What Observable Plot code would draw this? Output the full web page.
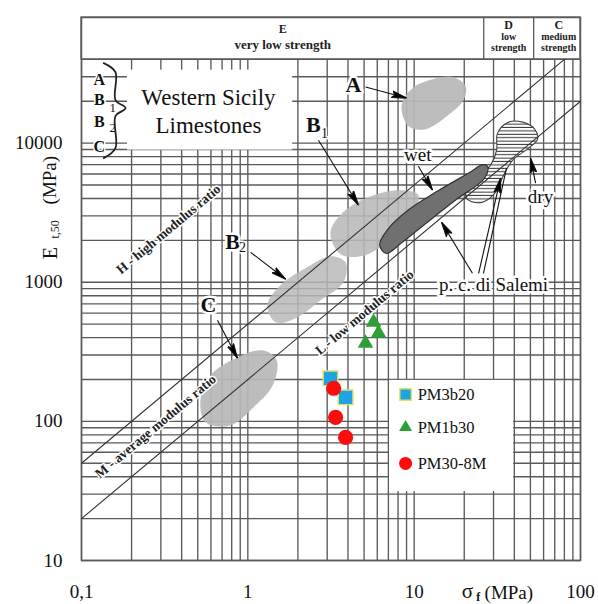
<!DOCTYPE html>
<html><head><meta charset="utf-8">
<script src="https://cdn.jsdelivr.net/npm/d3@7"></script>
<script src="https://cdn.jsdelivr.net/npm/@observablehq/plot@0.6"></script>
<style>body{margin:0;background:#fff}#chart{width:598px;height:604px}#chart text{font-family:"Liberation Serif","DejaVu Serif",serif}</style>
</head><body><div id="chart"></div>
<script>
// ---- data (sigma_f in MPa, E_t50 in MPa) ----
const xTicks = [0.1, 1, 10, 100];
const xTickLabels = ["0,1", "1", "10", "100"];
const yTicks = [10, 100, 1000, 10000];
const yTickLabels = ["10", "100", "1000", "10000"];

// modulus-ratio lines
const lineHSigma = [0.1, 80], lineHE = [50, 40000];
const lineLSigma = [0.1, 100], lineLE = [20, 20000];

// field outlines
const aSigma = [8.4, 9.8, 12.9, 17, 20.4, 19.8, 15.7, 11.7, 9.25];
const aE = [18800, 24900, 28800, 29900, 25700, 20400, 15600, 12600, 13200];
const b1Sigma = [3.14, 3.87, 5.47, 8.28, 10.6, 9.78, 7.21, 5.10, 3.61];
const b1E = [2290, 3300, 4160, 4590, 4230, 3030, 2070, 1565, 1590];
const b2Sigma = [1.31, 1.57, 2.22, 3.14, 3.87, 3.76, 2.74, 1.94, 1.47];
const b2E = [683, 951, 1260, 1540, 1390, 1000, 742, 551, 515];
const cSigma = [0.519, 0.597, 0.844, 1.23, 1.49, 1.41, 1.11, 0.787, 0.557];
const cE = [142, 214, 284, 324, 275, 181, 130, 93.6, 98.4];
const wetSigma = [6.2, 6.9, 9.3, 14.0, 21.3, 25.9, 27.8, 26.2, 18.0, 11.9, 8.4, 6.8];
const wetE = [1850, 2380, 3330, 4560, 6100, 7000, 6700, 5500, 3950, 2680, 1920, 1610];
const drySigma = [31.7, 37.0, 44.9, 53.0, 55.2, 48.7, 39.1, 34.5, 30.9, 25.8, 21.2, 20.4, 23.4, 28.8, 31.3];
const dryE = [11800, 14160, 14160, 12620, 10690, 9200, 7550, 5890, 4440, 3760, 3890, 4440, 5420, 6950, 8910];

// test points
const pm3b20Sigma = [3.14, 3.87], pm3b20E = [204, 149];
const pm1b30Sigma = [5.70, 6.11, 5.10], pm1b30E = [515, 430, 364];
const pm30Sigma = [3.28, 3.37, 3.87], pm30E = [173, 107, 76.7];

// arrows [sigma1, E1] -> [sigma2, E2]
const arrowS1 = [5.10, 2.66, 1.04, 0.657, 10.6, 53.7, 22.4, 24.4];
const arrowE1 = [25300, 10500, 1640, 533, 6830, 5150, 1160, 1160];
const arrowS2 = [9.00, 4.63, 1.69, 0.867, 12.9, 50.1, 14.6, 33.1];
const arrowE2 = [21080, 3580, 1050, 284, 4590, 7800, 2700, 5600];
const plainLinkS = [26.1], plainLinkE = [1160], plainLinkS2 = [35.9], plainLinkE2 = [6610];

// labels
const bigLabels = ["A", "B", "B", "C"];
const bigLabelSigma = [4.32, 2.48, 0.809, 0.580];
const bigLabelE = [26100, 13470, 1940, 683];
const subLabels = ["1", "2"];
const subLabelSigma = [2.89, 0.929];
const subLabelE = [11800, 1790];
const noteLabels = ["wet", "dry", "p. c. di Salemi"];
const noteSigma = [10.5, 57.5, 30.0];
const noteE = [8200, 4090, 951];
const ratioLabels = ["H - high modulus ratio", "M - average modulus ratio", "L - low modulus ratio"];
const ratioSigma = [0.333, 0.279, 5.03];
const ratioE = [2400, 92, 608];

// key at top-left
const keyLetters = ["A", "B", "B", "C"];
const keySigma = 0.128;
const keyE = [28400, 20400, 14160, 9350];
const keySubs = ["1", "2"];
const keySubE = [17860, 12820];
const braceSigma = [0.136, 0.16, 0.16, 0.184, 0.16, 0.16, 0.136];
const braceE = [37600, 32400, 20400, 17860, 15650, 9200, 7800];
const titleLines = ["Western Sicily", "Limestones"];
const titleE = [21400, 13470];

// strength classes header
const classBounds = [26.2, 52.3];
const headerBig = ["E", "D", "C"];
const headerBigSigma = [1.62, 37.0, 74.0];
const headerBigE = [66100, 71000, 71000];
const headerSmall = ["very low strength", "low", "strength", "medium", "strength"];
const headerSmallSigma = [1.62, 37.0, 37.0, 74.0, 74.0];
const headerSmallE = [50700, 58500, 48300, 58500, 48300];

// legend
const legendNames = ["PM3b20", "PM1b30", "PM30-8M"];
const legendE = [156, 90.6, 49.9];

// ---- build ----
const serif = "Liberation Serif, DejaVu Serif, serif";
const pts = (s, e) => s.map((v, i) => ({x: v, y: e[i]}));
const gridX = d3.scaleLog().domain([0.1, 100]).ticks();
const gridY = d3.scaleLog().domain([10, 40000]).ticks();
const ns = "http://www.w3.org/2000/svg";
function head(color, context) {
  const doc = context.document;
  const m = doc.createElementNS(ns, "marker");
  m.setAttribute("viewBox", "-15 -4 15 8");
  m.setAttribute("markerWidth", "15");
  m.setAttribute("markerHeight", "8");
  m.setAttribute("markerUnits", "userSpaceOnUse");
  m.setAttribute("orient", "auto");
  const p = doc.createElementNS(ns, "path");
  p.setAttribute("d", "M-15,-3.4L0,0L-15,3.4L-12,0Z");
  p.setAttribute("fill", "#000");
  m.appendChild(p);
  return m;
}
const arrows = arrowS1.map((s, i) => ({x1: s, y1: arrowE1[i], x2: arrowS2[i], y2: arrowE2[i]}));
const plainLinks = plainLinkS.map((s, i) => ({x1: s, y1: plainLinkE[i], x2: plainLinkS2[i], y2: plainLinkE2[i]}));
const gridStroke = "#5a5a5a";
const txt = (arr, sig, e) => arr.map((t, i) => ({t, x: Array.isArray(sig) ? sig[i] : sig, y: e[i]}));
const T = (data, opts) => Plot.text(data, {x: "x", y: "y", text: "t", fontFamily: serif, fill: "#111", ...opts});
const blob = (s, e, fill, extra = {}) => Plot.line(pts(s, e), {x: "x", y: "y", curve: "catmull-rom-closed", fill, stroke: "none", ...extra});
const one = (t, sig, e, opts) => T([{t, x: sig, y: e}], opts);

const chart = Plot.plot({
  width: 598, height: 604,
  marginLeft: 81, marginRight: 18, marginTop: 17, marginBottom: 44,
  x: {type: "log", domain: [0.1, 100], label: null},
  y: {type: "log", domain: [10, 80000], label: null},
  style: {fontFamily: serif, fontSize: "19px", background: "white", color: "#111"},
  marks: [
    Plot.ruleX(gridX, {y1: 10, y2: 40000, stroke: gridStroke, strokeWidth: 1.35}),
    Plot.ruleY(gridY, {x1: 0.1, x2: 100, stroke: gridStroke, strokeWidth: 1.35}),
    Plot.rect([0], {x1: 0.1, x2: 100, y1: 40000, y2: 80000, fill: "white", stroke: gridStroke, strokeWidth: 1.3}),
    Plot.ruleX(classBounds, {y1: 40000, y2: 80000, stroke: gridStroke, strokeWidth: 1.3}),
    Plot.frame({stroke: gridStroke, strokeWidth: 1.5}),
    // fields
    blob(aSigma, aE, "#b8b8b8", {fillOpacity: 0.93}),
    blob(b1Sigma, b1E, "#b8b8b8", {fillOpacity: 0.88}),
    blob(b2Sigma, b2E, "#b8b8b8", {fillOpacity: 0.85}),
    blob(cSigma, cE, "#b8b8b8", {fillOpacity: 0.93}),
    blob(drySigma, dryE, "url(#hatch)", {stroke: "#444", strokeWidth: 1.1}),
    blob(wetSigma, wetE, "#707070", {stroke: "#333", strokeWidth: 1.2}),
    // modulus ratio lines
    Plot.line(pts(lineHSigma, lineHE), {x: "x", y: "y", stroke: "#333", strokeWidth: 1.1}),
    Plot.line(pts(lineLSigma, lineLE), {x: "x", y: "y", stroke: "#333", strokeWidth: 1.1}),
    T(txt(ratioLabels, ratioSigma, ratioE), {rotate: -40, fontSize: 13.5, fontWeight: "bold", fill: "#222", stroke: "white", strokeWidth: 3}),
    // white boxes
    Plot.rect([0], {x1: 0.189, x2: 1.86, y1: 8910, y2: 33500, fill: "white"}),
    Plot.rect([0], {x1: 7.11, x2: 39.6, y1: 31.3, y2: 197, fill: "white"}),
    // arrows
    Plot.link(arrows, {x1: "x1", y1: "y1", x2: "x2", y2: "y2", stroke: "#111", strokeWidth: 1.1, markerEnd: head}),
    Plot.link(plainLinks, {x1: "x1", y1: "y1", x2: "x2", y2: "y2", stroke: "#111", strokeWidth: 1.1}),
    // labels
    T(txt(bigLabels, bigLabelSigma, bigLabelE), {fontSize: 22, fontWeight: "bold", stroke: "white", strokeWidth: 5}),
    T(txt(subLabels, subLabelSigma, subLabelE), {fontSize: 14, stroke: "white", strokeWidth: 3}),
    T(txt(noteLabels, noteSigma, noteE), {fontSize: 19, stroke: "white", strokeWidth: 5}),
    // key
    T(txt(keyLetters, keySigma, keyE), {fontSize: 16, fontWeight: "bold", stroke: "white", strokeWidth: 3}),
    T(txt(keySubs, 0.154, keySubE), {fontSize: 13, stroke: "white", strokeWidth: 2}),
    Plot.line(pts(braceSigma, braceE), {x: "x", y: "y", stroke: "#222", strokeWidth: 1.8, curve: "catmull-rom"}),
    T(txt(titleLines, 0.58, titleE), {fontSize: 23}),
    // header
    T(txt(headerBig, headerBigSigma, headerBigE), {fontSize: 12, fontWeight: "bold", fill: "#222"}),
    T(txt(headerSmall, headerSmallSigma, headerSmallE), {fontSize: (d, i) => d.t === "very low strength" ? 13 : 10, fontWeight: "bold", fill: "#222"}),
    // data points
    Plot.dot(pts(pm3b20Sigma, pm3b20E), {x: "x", y: "y", symbol: "square", r: 8.3, fill: "#1ea3e3", stroke: "#e4e06a", strokeWidth: 1.4}),
    Plot.dot(pts(pm1b30Sigma, pm1b30E), {x: "x", y: "y", symbol: "triangle", r: 5.8, fill: "#2e9e37", stroke: "none"}),
    Plot.dot(pts(pm30Sigma, pm30E), {x: "x", y: "y", symbol: "circle", r: 7.6, fill: "#fb0d0d", stroke: "none"}),
    // legend
    Plot.dot([legendE[0]], {x: 8.88, y: d => d, symbol: "square", r: 6.5, fill: "#1ea3e3", stroke: "#e4e06a", strokeWidth: 1.4}),
    Plot.dot([legendE[1]], {x: 8.88, y: d => d, symbol: "triangle", r: 4.8, fill: "#2e9e37", stroke: "none"}),
    Plot.dot([legendE[2]], {x: 8.88, y: d => d, symbol: "circle", r: 6.5, fill: "#fb0d0d", stroke: "none"}),
    T(txt(legendNames, 10.5, legendE), {textAnchor: "start", fontSize: 16.5}),
    // axes
    Plot.axisX({ticks: xTicks, tickFormat: d => xTickLabels[xTicks.indexOf(d)], tickSize: 0, tickPadding: 24, fontSize: 19, fontFamily: serif, label: null}),
    Plot.axisY({ticks: yTicks, tickFormat: d => yTickLabels[yTicks.indexOf(d)], tickSize: 0, tickPadding: 19, fontSize: 19, fontFamily: serif, label: null}),
    // axis titles
    one("σ", 20.9, 10, {dy: 31, fontSize: 21}),
    one("f", 24.3, 10, {dy: 37, fontSize: 12, fontWeight: "bold"}),
    one("(MPa)", 26.5, 10, {dy: 32, fontSize: 19, textAnchor: "start"}),
    one("E", 0.065, 1620, {rotate: -90, fontSize: 20}),
    one("t,50", 0.0695, 2400, {rotate: -90, fontSize: 12}),
    one("(MPa)", 0.065, 5420, {rotate: -90, fontSize: 19})
  ]
});
const defs = document.createElementNS(ns, "defs");
defs.innerHTML = '<pattern id="hatch" patternUnits="userSpaceOnUse" width="8" height="3.4"><rect width="8" height="3.4" fill="white"/><line x1="0" y1="1.2" x2="8" y2="1.2" stroke="#333" stroke-width="1"/></pattern>';
chart.insertBefore(defs, chart.firstChild);
document.getElementById("chart").appendChild(chart);
</script></body></html>
